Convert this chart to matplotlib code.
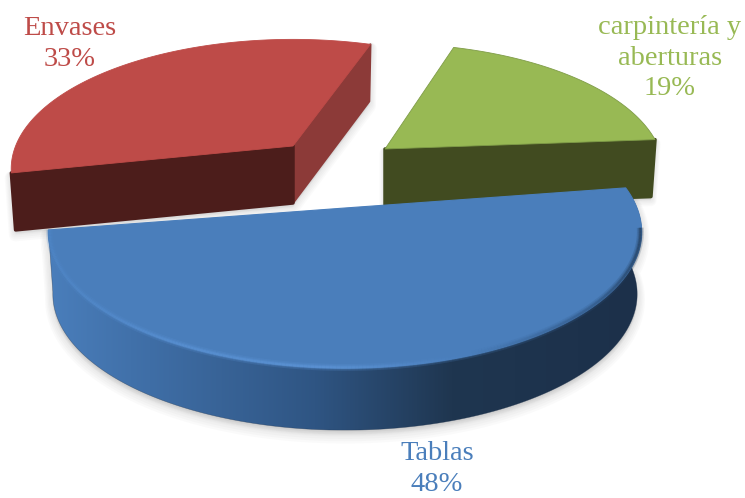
import numpy as np
import matplotlib
matplotlib.use("Agg")
import matplotlib.pyplot as plt
from matplotlib.collections import LineCollection
from matplotlib.colors import LinearSegmentedColormap, to_rgb
from matplotlib.patches import Polygon

# Data

labels = ["Tablas", "Envases", "carpintería y\naberturas"]
shares = [48, 33, 19]
pct_labels = ["48%", "33%", "19%"]

# Look of the slices: apex in pixels, size factor, first angle, angle stretch

apex = [(345, 208), (293, 146), (385, 149)]
scale = [1.0, 0.95, 0.94]
start = [189.3, 71.0, 4.4]
stretch = [1.04, 1.018, 1.003]
depth = [62, 57, 57]
top_cols = ["#4a7ebb", "#be4b48", "#98b954"]
front_cols = [None, "#4c1d1b", "#414b20"]
label_pos = [(437, 469), (70, 44), (670, 58)]

A, B, K = 292, 132, 0.176


def project(t, i, r=1.0):
    t = np.radians(t)
    w = 1 + K*r*np.sin(t)
    x = apex[i][0] + scale[i]*A*r*np.cos(t)/w
    y = apex[i][1] - scale[i]*B*r*np.sin(t)/w
    return np.column_stack([x, y])


def arc(i, r=1.0):
    t = np.linspace(start[i], start[i] + shares[i]*3.6*stretch[i], 300)
    return project(t, i, r)


def extrude(p, i):
    # the lower edge sits a little further in than the upper one
    low = p + [0, depth[i]]
    low[:, 0] = apex[i][0] + (low[:, 0] - apex[i][0])*0.985
    return np.vstack([p, low[::-1]])


def shadow(ax, pts, spread):
    # stacked see-through copies make a soft grey edge
    for s in np.linspace(spread, 1, 6):
        ax.add_patch(Polygon(pts + [0, s*0.8], closed=True, fc="#808080", ec="#808080",
                             lw=s*1.6, alpha=0.035, joinstyle="round", zorder=1))


fig = plt.figure(figsize=(7.45, 4.98), dpi=100)
ax = fig.add_axes([0, 0, 1, 1])

# Green slice

p = arc(2)
corner = p[0]
front = extrude(np.vstack([apex[2], corner]), 2)
shadow(ax, front, 5)
ax.add_patch(Polygon(front, closed=True, fc=front_cols[2], ec=front_cols[2], lw=2.5,
                     joinstyle="round", zorder=2))
ax.add_patch(Polygon(np.vstack([apex[2], p]), closed=True, fc=top_cols[2], ec="#7f9c48",
                     lw=0.6, zorder=3))

# Red slice

p = arc(1)
rear, left = p[0], p[-1]
shadow(ax, extrude(np.vstack([left, apex[1], rear]), 1), 6)
ax.add_patch(Polygon(extrude(np.vstack([apex[1], rear]), 1), closed=True, fc="#8c3a38",
                     ec="#8c3a38", lw=1.5, joinstyle="round", zorder=2))
ax.add_patch(Polygon(extrude(np.vstack([left, apex[1]]), 1), closed=True, fc=front_cols[1],
                     ec=front_cols[1], lw=2.5, joinstyle="round", zorder=3))
ax.add_patch(Polygon(np.vstack([apex[1], p]), closed=True, fc=top_cols[1], ec=top_cols[1],
                     lw=0.6, zorder=4))

# Blue slice, its wall gets darker to the right

p = arc(0)
wall = extrude(p, 0)
shadow(ax, wall, 7)
wall_cm = LinearSegmentedColormap.from_list(
    "wall", [(0, "#4a7ebb"), (0.17, "#3f6ea6"), (0.45, "#2f5583"), (0.68, "#1f3650"), (1, "#1c304a")])
x0, x1 = wall[:, 0].min(), wall[:, 0].max()
img = ax.imshow(np.linspace(0, 1, 256)[None, :], cmap=wall_cm, aspect="auto",
                extent=(x0, x1, wall[:, 1].max(), wall[:, 1].min()), zorder=6)
clip = Polygon(wall, closed=True, transform=ax.transData)
img.set_clip_path(clip)
ax.add_patch(Polygon(wall, closed=True, fc="none", ec="#1c304a", lw=0.4, alpha=0.5, zorder=6))
ax.add_patch(Polygon(np.vstack([apex[0], p]), closed=True, fc=top_cols[0], ec="#4a7ebb",
                     lw=0.8, zorder=7))

# Rim of the blue slice: light bevel on the left, blurred dark edge on the right
# (not along the upper right bit, where no wall shows behind it)

rim = arc(0, 0.996)
seg = np.stack([rim[:-1], rim[1:]], axis=1)
seg = seg[seg[:, :, 1].mean(axis=1) > 228]
stops_x = [48, 180, 330, 470, 600, 645]
stops_c = ["#4f86c6", "#5b93d6", "#5f97da", "#4a7ebb", "#2f5480", "#1f3650"]
rgb = np.array([to_rgb(c) for c in stops_c])
xm = seg[:, :, 0].mean(axis=1)
cols = np.column_stack([np.interp(xm, stops_x, rgb[:, j]) for j in range(3)])
for lw, al in [(5.0, 0.2), (3.0, 0.3), (1.5, 0.5)]:
    ax.add_collection(LineCollection(seg, colors=cols, linewidths=lw, alpha=al, zorder=8))

# Labels

for i in range(3):
    txt = labels[i] + "\n" + pct_labels[i]
    ax.text(label_pos[i][0], label_pos[i][1], txt, color=top_cols[i], ha="center", va="center",
            family="Liberation Serif", fontsize=20.5, linespacing=1.3, zorder=10)

ax.set_xlim(0, 745)
ax.set_ylim(498, 0)
ax.axis("off")
fig.savefig("out.png", dpi=100)
